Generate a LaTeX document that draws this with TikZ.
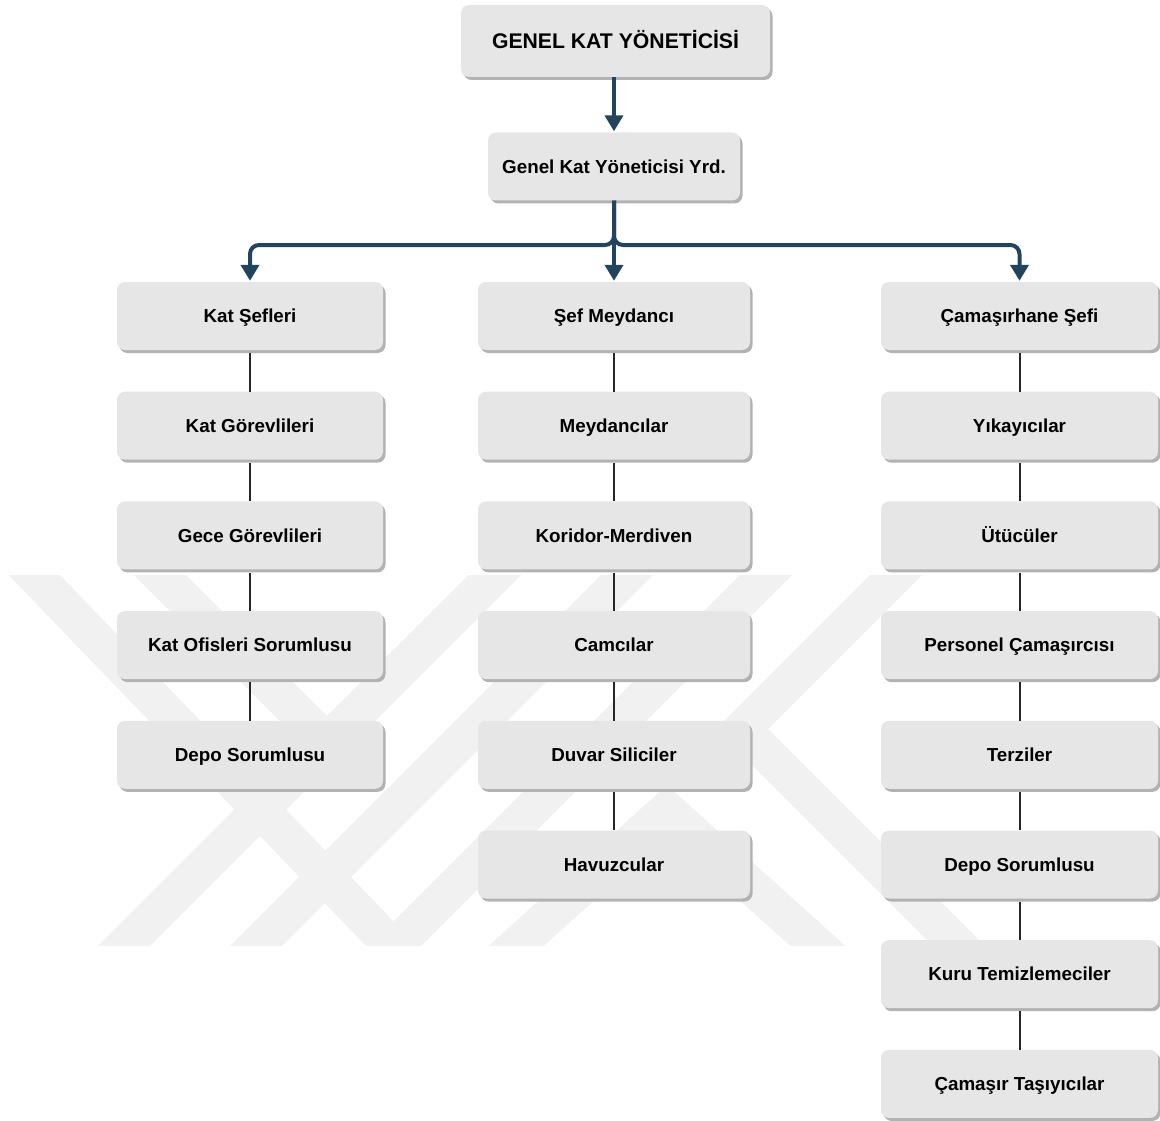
\documentclass[tikz,border=0pt]{standalone}
\usepackage{fontspec}
\setmainfont{Liberation Sans}
\usetikzlibrary{arrows.meta,shadows}
\definecolor{kutugri}{HTML}{E6E6E6}
\definecolor{oklacivert}{HTML}{23445D}
\definecolor{filigrangri}{HTML}{F1F1F1}
\tikzset{
	kutu/.style={rectangle, rounded corners=8pt, fill=kutugri, minimum height=68pt,
		font=\fontsize{18.8}{22}\selectfont\bfseries, text height=13.5pt, text depth=0pt,
		drop shadow={shadow xshift=2.5pt, shadow yshift=-3pt, fill=black!30, opacity=1}},
	okcizgi/.style={draw=oklacivert, line width=4pt, rounded corners=9pt, shorten >=1pt,
		-{Triangle[width=18pt,length=16pt]}},
	baglanti/.style={draw=black!85, line width=2pt, shorten <=3pt},
	filigran/.style={draw=filigrangri, line width=37pt, line join=miter}
}

\begin{document}
\begin{tikzpicture}[x=1pt, y=-1pt]
\useasboundingbox (0,0) rectangle (1160,1121);
% filigran (arka plan)
\begin{scope}
	\clip (0,575) rectangle (1160,945);
	\draw [filigran] (15,555) -- (410,965);
	\draw [filigran] (140,555) -- (327,742) -- (515,555);
	\draw [filigran] (515,555) -- (105,965);
	\draw [filigran] (647,555) -- (237,965);
	\draw [filigran] (786,555) -- (376,965);
	\draw [filigran] (495,965) -- (667,810) -- (839,965);
	\draw [filigran] (916,555) -- (742,729) -- (978,965);
\end{scope}
% ust kademe
\node [kutu, minimum width=309pt, minimum height=72pt, text height=15.2pt,
	font=\fontsize{21.2}{25}\selectfont\bfseries] (gky) at (615.5,41) {GENEL KAT YÖNETİCİSİ};
\node [kutu, minimum width=252pt] (yrd) at (614,166.5) {Genel Kat Yöneticisi Yrd.};
% sutunlar
\foreach \metin [count=\i] in {Kat Şefleri,Kat Görevlileri,Gece Görevlileri,Kat Ofisleri Sorumlusu,Depo Sorumlusu}
	\node [kutu, minimum width=266pt] (sol\i) at (250,{316+109.7*(\i-1)}) {\metin};
\foreach \metin [count=\i] in {Şef Meydancı,Meydancılar,Koridor-Merdiven,Camcılar,Duvar Siliciler,Havuzcular}
	\node [kutu, minimum width=272pt] (orta\i) at (614,{316+109.7*(\i-1)}) {\metin};
\foreach \metin [count=\i] in {Çamaşırhane Şefi,Yıkayıcılar,Ütücüler,Personel Çamaşırcısı,Terziler,Depo Sorumlusu,Kuru Temizlemeciler,Çamaşır Taşıyıcılar}
	\node [kutu, minimum width=277pt] (sag\i) at (1019.5,{316+109.7*(\i-1)}) {\metin};
% oklar
\coordinate (catal) at (614,245);
\draw [okcizgi] (yrd.north |- gky.south) -- (yrd.north);
\draw [okcizgi] (yrd.south) -- (catal) -| (sol1.north);
\draw [okcizgi] (yrd.south) -- (orta1.north);
\draw [okcizgi] (yrd.south) -- (catal) -| (sag1.north);
% baglantilar
\foreach \i [count=\j from 2] in {1,...,4}
	\draw [baglanti] (sol\i) -- (sol\j);
\foreach \i [count=\j from 2] in {1,...,5}
	\draw [baglanti] (orta\i) -- (orta\j);
\foreach \i [count=\j from 2] in {1,...,7}
	\draw [baglanti] (sag\i) -- (sag\j);
\end{tikzpicture}
\end{document}
